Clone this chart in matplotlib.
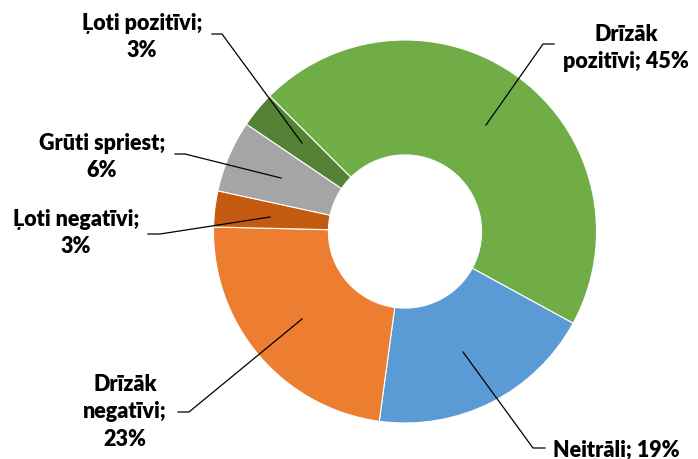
import matplotlib.pyplot as plt

# data
labels = ["Drīzāk\npozitīvi; 45%", "Neitrāli; 19%", "Drīzāk\nnegatīvi;\n23%",
          "Ļoti negatīvi;\n3%", "Grūti spriest;\n6%", "Ļoti pozitīvi;\n3%"]
values = [45, 19, 23, 3, 6, 3]
colors = ["#70AD47", "#5B9BD5", "#ED7D31", "#C55A11", "#A5A5A5", "#548235"]

W, H = 698, 459
fig = plt.figure(figsize=(W / 100, H / 100), dpi=100)
ax = fig.add_axes([0, 0, 1, 1])

cx, cy, r = 405, H - 231.5, 191.5
ax.pie(values, colors=colors, startangle=135, counterclock=False,
       center=(cx, cy), radius=r, frame=True,
       wedgeprops=dict(width=r * 0.6, edgecolor="white", linewidth=0.8))
ax.set_xlim(0, W)
ax.set_ylim(0, H)
ax.set_aspect("equal")
ax.axis("off")

# label placement in pixel coords (y from top): text centre, leader line points
layout = [
    ((626, 48), [(554, 44), (543, 44), (486, 125)]),
    ((616, 450), [(545, 448), (533, 448), (463, 352)]),
    ((125, 412), [(178, 412), (189, 412), (302, 319)]),
    ((76, 233), [(148, 234), (160, 234), (270, 217)]),
    ((102, 157), [(175, 154), (185, 154), (281, 178)]),
    ((142, 37), [(212, 34), (222, 34), (302, 143)]),
]
for lab, ((tx, ty), pts) in zip(labels, layout):
    ax.text(tx, H - ty, lab, ha="center", va="center", fontsize=15.5,
            fontweight="heavy", family=["Lato", "DejaVu Sans"],
            linespacing=1.4, color="black")
    xs = [p[0] for p in pts]
    ys = [H - p[1] for p in pts]
    ax.plot(xs, ys, color="black", linewidth=0.9)

fig.savefig("out.png", dpi=100)
